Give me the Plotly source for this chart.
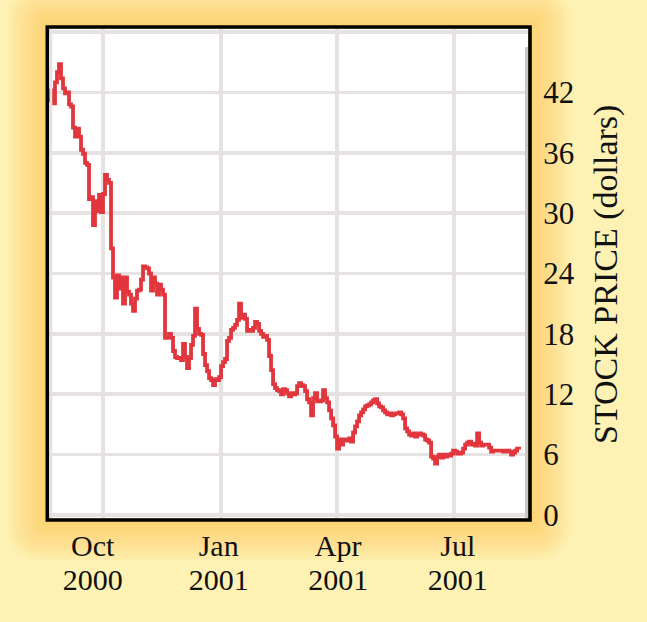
import pandas as pd
import plotly.graph_objects as go

# ---- data ----
START_DATE = "2000-08-20"
END_DATE = "2001-08-20 18:00"
PRICE = [
    41.2, 42.2, 40.9, 43.0, 44.0, 44.8, 43.4, 42.4, 41.9, 42.0,
    40.8, 40.6, 38.5, 37.6, 38.4, 37.6, 36.3, 35.9, 35.0, 34.8,
    31.4, 31.6, 28.8, 31.2, 30.2, 31.8, 30.1, 31.9, 33.8, 33.3,
    33.0, 26.5, 23.6, 21.6, 23.8, 22.5, 23.6, 21.0, 23.6, 22.2,
    21.9, 21.0, 20.3, 21.5, 22.3, 22.4, 23.4, 24.7, 24.6, 24.5,
    24.0, 22.3, 23.6, 23.0, 21.9, 22.9, 22.4, 21.9, 17.6, 17.7,
    18.0, 17.6, 16.3, 15.7, 15.6, 15.6, 15.4, 17.0, 15.7, 14.6,
    15.6, 16.9, 17.8, 20.5, 18.5, 18.0, 17.9, 16.0, 14.9, 14.3,
    13.6, 13.4, 12.9, 13.5, 13.4, 13.7, 14.8, 15.2, 15.5, 17.3,
    17.6, 18.4, 18.6, 18.9, 19.4, 21.0, 19.6, 19.9, 19.5, 18.3,
    18.4, 18.3, 18.6, 19.2, 19.0, 18.3, 18.0, 17.7, 17.8, 17.4,
    15.8, 14.4, 13.0, 12.6, 12.4, 12.3, 12.0, 12.5, 12.4, 12.1,
    11.8, 12.1, 12.0, 12.1, 12.8, 13.1, 12.9, 12.8, 12.3, 11.5,
    11.2, 9.9, 11.6, 12.1, 11.3, 11.3, 11.4, 12.4, 11.6, 11.2,
    10.4, 9.6, 8.9, 7.8, 6.6, 7.5, 7.0, 7.5, 7.4, 7.4,
    7.6, 7.3, 8.2, 8.8, 9.3, 9.9, 10.2, 10.5, 10.8, 10.9,
    11.0, 11.2, 11.4, 11.5, 11.1, 10.8, 10.7, 10.4, 10.2, 10.0,
    10.1, 9.9, 10.0, 10.1, 10.1, 10.2, 10.0, 9.6, 8.6, 8.3,
    8.0, 7.9, 8.1, 7.8, 8.0, 8.1, 8.0, 7.9, 7.5, 7.4,
    7.2, 5.8, 5.6, 5.1, 5.8, 6.0, 5.7, 6.0, 5.8, 6.0,
    5.9, 6.1, 6.4, 6.3, 6.1, 6.1, 6.2, 6.6, 7.0, 7.2,
    7.3, 7.0, 7.1, 6.9, 8.1, 7.2, 6.9, 7.0, 7.0, 7.0,
    6.7, 6.3, 6.4, 6.4, 6.4, 6.4, 6.4, 6.3, 6.4, 6.4,
    6.3, 6.0, 6.2, 6.4, 6.6, 6.5,
]
DATES = pd.date_range(START_DATE, END_DATE, periods=len(PRICE))

GRID_DATES = ["2000-10-01", "2001-01-01", "2001-04-01", "2001-07-01"]
LABEL_DATES = ["2000-09-23", "2000-12-30", "2001-04-02", "2001-07-04"]
MONTH_LABELS = ["Oct", "Jan", "Apr", "Jul"]
YEAR_LABELS = ["2000", "2001", "2001", "2001"]
Y_GRID = [0, 6, 12, 18, 24, 30, 36, 42, 48]
Y_LABELS = ["0", "6", "12", "18", "24", "30", "36", "42", ""]
Y_TITLE = "STOCK PRICE (dollars)"

# ---- geometry ----
W, H = 647, 622
L, R, T, B = 49, 528, 29, 518   # plot area in pixels
FONT = "Liberation Serif"
X_RANGE = ["2000-08-20", "2001-08-27 16:00"]


def px(x):
    return (x - L) / (R - L)


def py(y):
    return (B - y) / (B - T)


def rounded_rect(x0, y0, x1, y1, r):
    """SVG path of a rounded rectangle given in pixels (converted to paper)."""
    pts = []
    def P(x, y):
        return f"{px(x):.5f},{py(y):.5f}"
    path = (f"M {P(x0 + r, y0)} L {P(x1 - r, y0)} Q {P(x1, y0)} {P(x1, y0 + r)} "
            f"L {P(x1, y1 - r)} Q {P(x1, y1)} {P(x1 - r, y1)} "
            f"L {P(x0 + r, y1)} Q {P(x0, y1)} {P(x0, y1 - r)} "
            f"L {P(x0, y0 + r)} Q {P(x0, y0)} {P(x0 + r, y0)} Z")
    return path


shapes = []
# soft orange glow around the frame
for k in range(20, 0, -1):
    e = 2 * k
    shapes.append(dict(type="path", xref="paper", yref="paper", layer="below",
                       path=rounded_rect(46 - e, 25 - e, 532 + e, 522 + e, e),
                       line=dict(width=0), fillcolor="rgba(240,176,66,0.032)"))
# white panel
shapes.append(dict(type="rect", xref="paper", yref="paper", layer="below",
                   x0=0, x1=1, y0=0, y1=1, line=dict(width=0), fillcolor="#ffffff"))
# thin grey strips at the left and right inner edges
shapes.append(dict(type="line", xref="paper", yref="paper", layer="above",
                   x0=px(51), x1=px(51), y0=0, y1=1,
                   line=dict(color="#e6e2e2", width=2.5)))
shapes.append(dict(type="line", xref="paper", yref="paper", layer="above",
                   x0=px(526.5), x1=px(526.5), y0=0, y1=py(47),
                   line=dict(color="#c9c6c6", width=3)))
# black frame
shapes.append(dict(type="rect", xref="paper", yref="paper", layer="above",
                   x0=px(47.3), x1=px(530), y0=py(520), y1=py(27),
                   line=dict(color="#000000", width=3.6)))

fig = go.Figure()
fig.add_trace(go.Scatter(x=DATES, y=PRICE, mode="lines", line_shape="hv",
                         line=dict(color="#e2363e", width=3.8),
                         hoverinfo="skip", showlegend=False))
# carrier trace for the year-label axis (draws nothing)
fig.add_trace(go.Scatter(x=[DATES[0]], y=[None], xaxis="x2", mode="lines",
                         hoverinfo="skip", showlegend=False))

tick_font = dict(family=FONT, size=30, color="#111111")
fig.update_layout(
    width=W, height=H,
    margin=dict(l=L, r=W - R, t=T, b=H - B, pad=0),
    paper_bgcolor="#fdf2b4",
    plot_bgcolor="rgba(0,0,0,0)",
    font=dict(family=FONT, size=30, color="#111111"),
    showlegend=False,
    shapes=shapes,
    xaxis=dict(
        range=X_RANGE,
        tickmode="array", tickvals=LABEL_DATES, ticktext=MONTH_LABELS,
        showgrid=False, zeroline=False, showline=False,
        ticks="outside", ticklen=1, tickcolor="rgba(0,0,0,0)",
        tickfont=tick_font,
        minor=dict(tickmode="array", tickvals=GRID_DATES, showgrid=True,
                   gridcolor="#e6e2e2", gridwidth=3.5, ticks=""),
    ),
    xaxis2=dict(
        range=X_RANGE, overlaying="x", anchor="y", side="bottom",
        tickmode="array", tickvals=LABEL_DATES, ticktext=YEAR_LABELS,
        showgrid=False, zeroline=False, showline=False,
        ticks="outside", ticklen=35, tickcolor="rgba(0,0,0,0)",
        tickfont=tick_font,
    ),
    yaxis=dict(
        range=[-0.3, 48.3], side="right",
        tickmode="array", tickvals=Y_GRID, ticktext=Y_LABELS,
        showgrid=True, gridcolor="#e6e2e2", gridwidth=3.5,
        zeroline=False, showline=False,
        ticks="outside", ticklen=8, tickcolor="rgba(0,0,0,0)",
        tickfont=dict(family=FONT, size=31, color="#111111"),
    ),
    annotations=[dict(text=Y_TITLE, xref="paper", yref="paper",
                      x=px(606), y=py(275), xanchor="center", yanchor="middle",
                      textangle=-90, showarrow=False,
                      font=dict(family=FONT, size=34, color="#111111"))],
)

fig.write_html("out.html",
               config={"displayModeBar": False, "staticPlot": True},
               post_script="document.body.style.margin='0';"
                           "document.body.style.background='#fdf2b4';")
